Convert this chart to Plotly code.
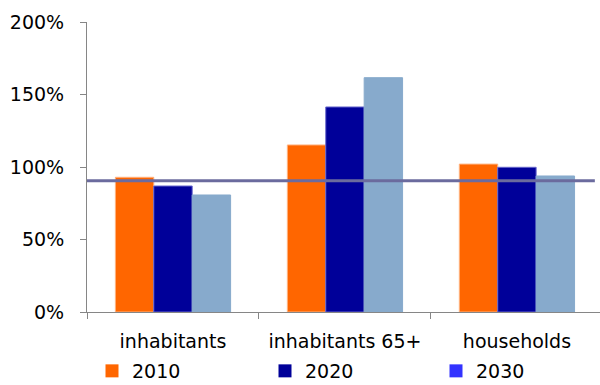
import plotly.graph_objects as go

categories = ["inhabitants", "inhabitants 65+", "households"]
years = ["2010", "2020", "2030"]
values_2010 = [0.929, 1.152, 1.02]
values_2020 = [0.869, 1.414, 0.998]
values_2030 = [0.807, 1.616, 0.938]
reference_level = 0.905
y_ticks = [0, 0.5, 1.0, 1.5, 2.0]
y_tick_labels = ["0%", "50%", "100%", "150%", "200%"]

bar_colors = ["#FF6600", "#000099", "#87AACC"]
bar_lines = ["#FFB27F", "#6666CC", "#87AACC"]
legend_colors = ["#FF6600", "#000099", "#3333FF"]
series = [values_2010, values_2020, values_2030]

FONT = "DejaVu Sans"
FS = 19

fig = go.Figure()
for yr, vals, c, lc in zip(years, series, bar_colors, bar_lines):
    fig.add_trace(go.Bar(
        x=categories, y=vals, name=yr, showlegend=False,
        marker=dict(color=c, line=dict(color=lc, width=1)),
    ))

legend_names = ["legend", "legend2", "legend3"]
legend_x = [92, 265, 436]
for yr, c, ln in zip(years, legend_colors, legend_names):
    fig.add_trace(go.Scatter(
        x=[None], y=[None], mode="markers", name=yr, legend=ln,
        marker=dict(symbol="square", size=13, color=c),
    ))

fig.add_shape(type="line", xref="x", yref="y",
              x0=-0.51, x1=2.453, y0=reference_level, y1=reference_level,
              line=dict(color="#6B6B9E", width=3))

legend_common = dict(orientation="h", xanchor="left", yanchor="middle",
                     xref="container", yref="container", y=(385 - 371) / 385,
                     bgcolor="rgba(0,0,0,0)", borderwidth=0,
                     font=dict(family=FONT, size=FS, color="#000000"))
layout_legends = {}
for ln, lx in zip(legend_names, legend_x):
    layout_legends[ln] = dict(x=lx / 600, **legend_common)

fig.update_layout(
    width=600, height=385,
    margin=dict(l=87, r=0, t=22, b=73, autoexpand=False),
    paper_bgcolor="white", plot_bgcolor="white",
    barmode="group", bargap=0.33, bargroupgap=0,
    font=dict(family=FONT, size=FS, color="#000000"),
    showlegend=True,
    **layout_legends,
)
fig.update_xaxes(
    type="category", range=[-0.5, 2.483], automargin=False,
    showline=True, linecolor="#868686", linewidth=1,
    ticks="outside", tickson="boundaries", ticklen=6, tickcolor="#868686",
    showgrid=False, zeroline=False, ticklabelstandoff=12,
    tickfont=dict(family=FONT, size=FS, color="#000000"),
)
fig.update_yaxes(
    range=[0, 2.0], tickvals=y_ticks, ticktext=y_tick_labels, automargin=False,
    showline=True, linecolor="#868686", linewidth=1,
    ticks="outside", ticklen=6, tickcolor="#868686",
    showgrid=False, zeroline=False, ticklabelstandoff=12,
    tickfont=dict(family=FONT, size=FS, color="#000000"),
)

fig.write_html("out.html", config={"displayModeBar": False},
               post_script="document.body.style.margin='0';document.body.style.overflow='hidden';")
